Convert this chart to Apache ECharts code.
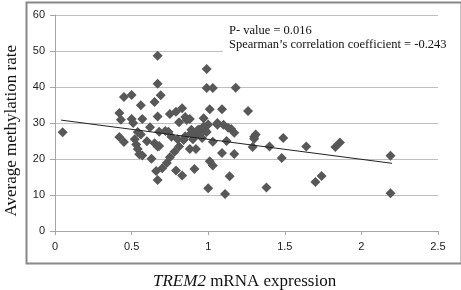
<!DOCTYPE html>
<html>
<head>
<meta charset="utf-8">
<script src="https://cdn.jsdelivr.net/npm/echarts@6/dist/echarts.min.js"></script>
<style>
html,body{margin:0;padding:0;background:#fff;}
#chart{width:461px;height:290px;}
</style>
</head>
<body>
<div id="chart"></div>
<script>
// TREM2 mRNA expression (x) and average methylation rate (y)
var xValues = [0.05,0.42,0.43,0.45,0.50,0.42,0.45,0.50,0.51,0.56,0.57,0.54,0.53,0.54,0.55,0.57,0.52,
  0.65,0.67,0.67,0.69,0.67,0.62,0.60,0.63,0.65,0.67,0.68,0.72,0.75,0.66,0.67,0.70,0.73,0.75,0.78,0.81,
  0.79,0.83,0.76,0.80,0.79,0.83,0.81,0.85,0.86,0.89,0.88,0.92,0.91,0.92,0.94,0.97,0.99,0.99,1.03,1.01,
  1.00,0.98,0.96,1.00,1.01,1.03,1.03,1.06,1.09,1.10,1.09,1.11,1.12,1.14,1.15,1.17,1.17,1.18,1.26,1.29,
  1.31,1.30,1.40,1.38,1.49,1.48,1.64,1.70,1.74,1.83,1.86,2.19,2.19,
  0.89,0.93,0.95,0.97,0.90,0.84,1.06,1.13,0.74,0.68,0.56,0.99,0.88,1.30,0.85];
var yValues = [27.4,32.8,30.9,37.2,37.8,26.1,24.7,31.1,30.0,34.9,31.1,27.5,24.0,22.8,21.3,21.0,25.5,
  35.8,40.9,48.7,37.7,31.8,28.8,24.9,20.1,24.4,23.5,27.6,27.8,32.5,16.7,14.2,17.4,18.9,20.5,22.0,23.5,
  16.8,15.4,26.2,25.5,33.1,34.1,30.2,31.7,30.8,28.1,22.8,22.8,17.2,26.7,28.2,31.3,39.7,45.0,39.7,33.8,
  29.6,28.0,25.8,11.9,19.4,18.2,24.8,29.5,33.8,29.5,21.7,10.3,25.0,15.2,28.3,27.3,21.4,39.8,33.3,23.3,
  26.8,25.6,23.5,12.1,25.8,20.3,23.5,13.6,15.3,23.3,24.6,20.9,10.5,
  27.2,28.0,27.0,29.0,25.5,25.3,30.0,28.7,27.6,23.6,26.8,27.5,31.1,26.2,26.3];
// Linear trendline end points
var trendX = [0.04, 2.2];
var trendY = [30.8, 18.8];
// Axis ticks
var xTicks = [0, 0.5, 1, 1.5, 2, 2.5];
var yTicks = [0, 10, 20, 30, 40, 50, 60];
var annotation = ['P- value = 0.016', 'Spearman\u2019s correlation coefficient = -0.243'];

var points = xValues.map(function (x, i) { return [x, yValues[i]]; });
var trend = trendX.map(function (x, i) { return [x, trendY[i]]; });

var chart = echarts.init(document.getElementById('chart'), null, {renderer: 'canvas'});
var sans = '"Liberation Sans", Arial, sans-serif';
var serif = '"Liberation Serif", "Times New Roman", serif';
chart.setOption({
  animation: false,
  backgroundColor: '#fff',
  grid: {left: 55, right: 23, top: 15, bottom: 59, containLabel: false},
  xAxis: {
    type: 'value', min: xTicks[0], max: xTicks[xTicks.length - 1], interval: 0.5,
    axisLine: {show: true, lineStyle: {color: '#a6a6a6', width: 1}},
    axisTick: {show: true, length: 4, lineStyle: {color: '#a6a6a6'}},
    splitLine: {show: false},
    axisLabel: {color: '#222', fontFamily: sans, fontSize: 11, margin: 10}
  },
  yAxis: {
    type: 'value', min: yTicks[0], max: yTicks[yTicks.length - 1], interval: 10,
    axisLine: {show: true, lineStyle: {color: '#a6a6a6', width: 1}},
    axisTick: {show: true, length: 5, lineStyle: {color: '#a6a6a6'}},
    splitLine: {show: true, lineStyle: {color: '#bfbfbf', width: 1}},
    axisLabel: {color: '#222', fontFamily: sans, fontSize: 11, margin: 10}
  },
  series: [
    {
      type: 'scatter', data: points, symbol: 'diamond', symbolSize: 10,
      itemStyle: {color: '#585858', opacity: 1}, z: 3
    },
    {
      type: 'line', data: trend, symbol: 'none', z: 4,
      lineStyle: {color: '#222', width: 1}
    }
  ],
  graphic: [
    {type: 'rect', left: 24, top: 0, shape: {width: 435, height: 261},
     style: {fill: 'none', stroke: '#888', lineWidth: 2}, silent: true},
    {type: 'rect', left: 223, top: 21, shape: {width: 215, height: 36},
     style: {fill: '#fff'}, z: 10},
    {type: 'text', left: 229, top: 24, z: 11,
     style: {text: annotation[0], font: '12.5px ' + serif, fill: '#111'}},
    {type: 'text', left: 229, top: 38, z: 11,
     style: {text: annotation[1], font: '12.5px ' + serif, fill: '#111'}},
    {type: 'text', left: 3, top: 45, z: 11, rotation: Math.PI / 2,
     style: {text: 'Average methylation rate', font: '17px ' + serif, fill: '#111'}},
    {type: 'text', left: 153, top: 273, z: 11,
     style: {text: '{i|TREM2} mRNA expression', fill: '#111',
       rich: {i: {fontStyle: 'italic', fontFamily: serif, fontSize: 17, fill: '#111'}},
       font: '17px ' + serif}}
  ]
});
</script>
</body>
</html>
